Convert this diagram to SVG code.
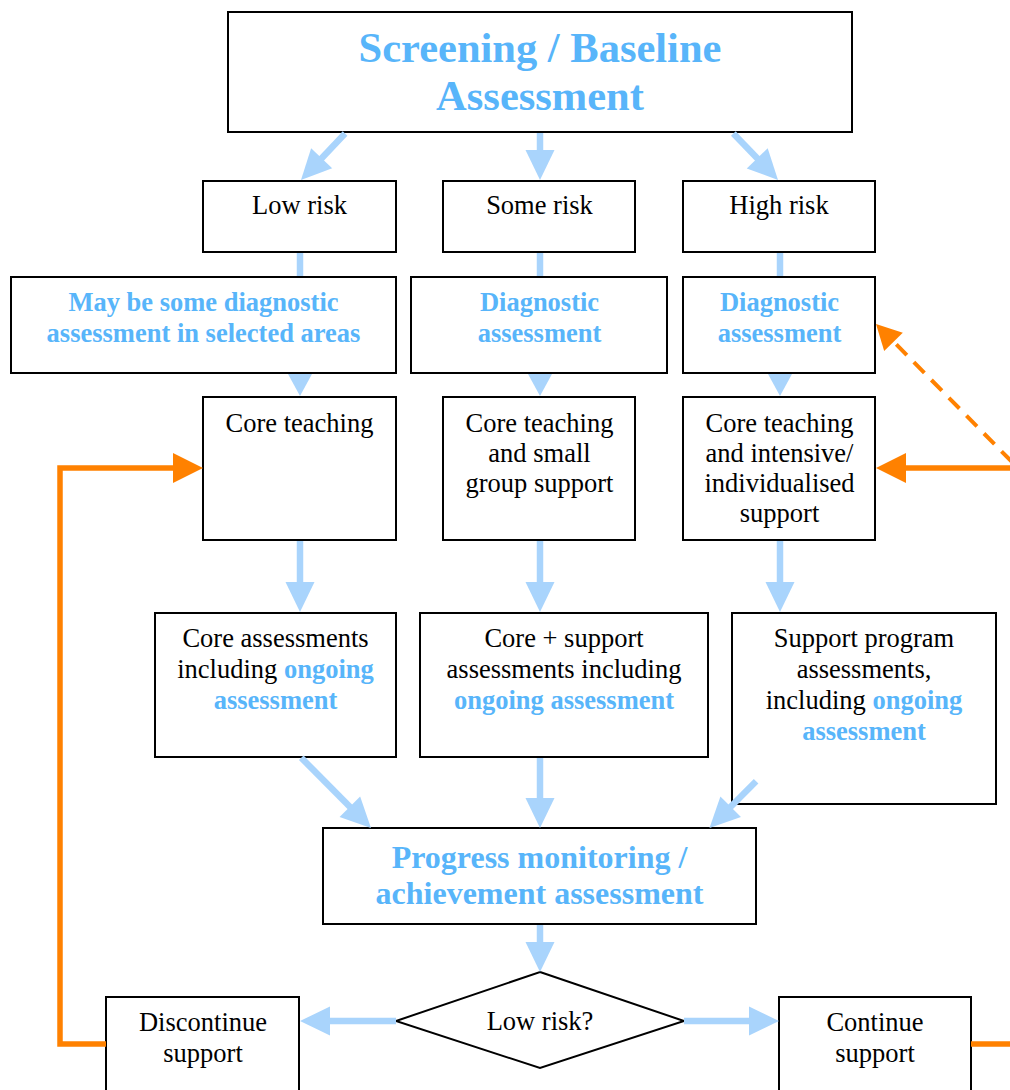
<svg xmlns="http://www.w3.org/2000/svg" width="1010" height="1090" viewBox="0 0 1010 1090">
<style>
  .box { fill: #ffffff; stroke: #000000; stroke-width: 2; }
  .t { font-family: "Liberation Serif", "Times New Roman", serif; font-size: 26.5px; fill: #000000; text-anchor: middle; }
  .b { font-family: "Liberation Serif", "Times New Roman", serif; font-weight: bold; fill: #58b5fa; }
  .hb { font-family: "Liberation Serif", "Times New Roman", serif; font-weight: bold; font-size: 26.5px; fill: #58b5fa; text-anchor: middle; }
  .title { font-family: "Liberation Serif", "Times New Roman", serif; font-weight: bold; font-size: 42.5px; fill: #58b5fa; text-anchor: middle; }
  .prog { font-family: "Liberation Serif", "Times New Roman", serif; font-weight: bold; font-size: 32px; fill: #58b5fa; text-anchor: middle; }
  .ab { stroke: #a9d4fc; stroke-width: 6.5; fill: none; }
  .ah { fill: #a9d4fc; stroke: none; }
  .ol { stroke: #ff8100; stroke-width: 5.5; fill: none; }
  .od { stroke: #ff8100; stroke-width: 4; fill: none; stroke-dasharray: 15 10; }
  .oh { fill: #ff8100; stroke: none; }
</style>

<g id="screening">
  <rect class="box" x="228" y="12" width="624" height="120"/>
  <text class="title" x="540" y="62">Screening / Baseline</text>
  <text class="title" x="540" y="110">Assessment</text>
</g>

<g id="low-risk">
  <rect class="box" x="203" y="181" width="193" height="71"/>
  <text class="t" x="299.5" y="214">Low risk</text>
</g>
<g id="some-risk">
  <rect class="box" x="443" y="181" width="192" height="71"/>
  <text class="t" x="539.5" y="214">Some risk</text>
</g>
<g id="high-risk">
  <rect class="box" x="683" y="181" width="192" height="71"/>
  <text class="t" x="779" y="214">High risk</text>
</g>

<g id="diag-low">
  <rect class="box" x="11" y="277" width="385" height="96"/>
  <text class="hb" x="203.5" y="311">May be some diagnostic</text>
  <text class="hb" x="203.5" y="342">assessment in selected areas</text>
</g>
<g id="diag-some">
  <rect class="box" x="411" y="277" width="256" height="96"/>
  <text class="hb" x="539.5" y="311">Diagnostic</text>
  <text class="hb" x="539.5" y="342">assessment</text>
</g>
<g id="diag-high">
  <rect class="box" x="683" y="277" width="192" height="96"/>
  <text class="hb" x="779.5" y="311">Diagnostic</text>
  <text class="hb" x="779.5" y="342">assessment</text>
</g>

<g id="teach-low">
  <rect class="box" x="203" y="397" width="193" height="143"/>
  <text class="t" x="299.5" y="432">Core teaching</text>
</g>
<g id="teach-some">
  <rect class="box" x="443" y="397" width="192" height="143"/>
  <text class="t" x="539.5" y="432">Core teaching</text>
  <text class="t" x="539.5" y="462">and small</text>
  <text class="t" x="539.5" y="492">group support</text>
</g>
<g id="teach-high">
  <rect class="box" x="683" y="397" width="192" height="143"/>
  <text class="t" x="779.5" y="432">Core teaching</text>
  <text class="t" x="779.5" y="462">and intensive/</text>
  <text class="t" x="779.5" y="492">individualised</text>
  <text class="t" x="779.5" y="522">support</text>
</g>

<g id="assess-low">
  <rect class="box" x="155" y="613" width="241" height="144"/>
  <text class="t" x="275.5" y="647">Core assessments</text>
  <text class="t" x="275.5" y="678">including <tspan class="b">ongoing</tspan></text>
  <text class="hb" x="275.5" y="709">assessment</text>
</g>
<g id="assess-some">
  <rect class="box" x="420" y="613" width="288" height="144"/>
  <text class="t" x="564" y="647">Core + support</text>
  <text class="t" x="564" y="678">assessments including</text>
  <text class="hb" x="564" y="709">ongoing assessment</text>
</g>
<g id="assess-high">
  <rect class="box" x="732" y="613" width="264" height="191"/>
  <text class="t" x="864" y="647">Support program</text>
  <text class="t" x="864" y="678">assessments,</text>
  <text class="t" x="864" y="709">including <tspan class="b">ongoing</tspan></text>
  <text class="hb" x="864" y="740">assessment</text>
</g>

<g id="progress">
  <rect class="box" x="323" y="828" width="433" height="96"/>
  <text class="prog" x="539.5" y="868">Progress monitoring /</text>
  <text class="prog" x="539.5" y="904">achievement assessment</text>
</g>

<g id="decision">
  <polygon class="box" points="540,972 684,1021 540,1068 396,1021"/>
  <text class="t" x="540" y="1030">Low risk?</text>
</g>

<g id="discontinue">
  <rect class="box" x="106" y="997" width="193" height="110"/>
  <text class="t" x="203" y="1031">Discontinue</text>
  <text class="t" x="203" y="1062">support</text>
</g>
<g id="continue">
  <rect class="box" x="779" y="997" width="192" height="110"/>
  <text class="t" x="875" y="1031">Continue</text>
  <text class="t" x="875" y="1062">support</text>
</g>

<g id="connectors">
  <!-- screening to risk boxes -->
  <g transform="translate(301,180) rotate(133.5)">
    <line class="ab" x1="-64" y1="0" x2="-29" y2="0"/>
    <polygon class="ah" points="0,0 -30,-14.5 -30,14.5"/>
  </g>
  <line class="ab" x1="540" y1="133" x2="540" y2="151"/>
  <polygon class="ah" points="540,180 525.5,150 554.5,150"/>
  <g transform="translate(778,180) rotate(46.2)">
    <line class="ab" x1="-64.5" y1="0" x2="-29" y2="0"/>
    <polygon class="ah" points="0,0 -30,-14.5 -30,14.5"/>
  </g>

  <!-- risk to diagnostic -->
  <line class="ab" x1="300" y1="253" x2="300" y2="276"/>
  <line class="ab" x1="540" y1="253" x2="540" y2="276"/>
  <line class="ab" x1="780" y1="253" x2="780" y2="276"/>

  <!-- diagnostic to teaching -->
  <polygon class="ah" points="288,374 312,374 300,396"/>
  <polygon class="ah" points="528,374 552,374 540,396"/>
  <polygon class="ah" points="768,374 792,374 780,396"/>

  <!-- teaching to assessments -->
  <line class="ab" x1="300" y1="541" x2="300" y2="583"/>
  <polygon class="ah" points="300,612 285.5,582 314.5,582"/>
  <line class="ab" x1="540" y1="541" x2="540" y2="583"/>
  <polygon class="ah" points="540,612 525.5,582 554.5,582"/>
  <line class="ab" x1="780" y1="541" x2="780" y2="583"/>
  <polygon class="ah" points="780,612 765.5,582 794.5,582"/>

  <!-- assessments to progress -->
  <g transform="translate(371,828) rotate(45.2)">
    <line class="ab" x1="-99" y1="0" x2="-29" y2="0"/>
    <polygon class="ah" points="0,0 -30,-14.5 -30,14.5"/>
  </g>
  <line class="ab" x1="540" y1="758" x2="540" y2="799"/>
  <polygon class="ah" points="540,828 525.5,798 554.5,798"/>
  <g transform="translate(709.5,828) rotate(134.9)">
    <line class="ab" x1="-66" y1="0" x2="-29" y2="0"/>
    <polygon class="ah" points="0,0 -30,-14.5 -30,14.5"/>
  </g>

  <!-- progress to decision -->
  <line class="ab" x1="540" y1="925" x2="540" y2="943"/>
  <polygon class="ah" points="540,972 525.5,942 554.5,942"/>

  <!-- decision to outcomes -->
  <line class="ab" x1="396" y1="1021" x2="329" y2="1021"/>
  <polygon class="ah" points="300,1021 330,1006.5 330,1035.5"/>
  <line class="ab" x1="684" y1="1021" x2="750" y2="1021"/>
  <polygon class="ah" points="779,1021 749,1006.5 749,1035.5"/>

  <!-- orange feedback loops -->
  <polyline class="ol" points="106,1044 60,1044 60,468 174,468"/>
  <polygon class="oh" points="203,468 173,453 173,483"/>

  <line class="ol" x1="971" y1="1044" x2="1015" y2="1044"/>
  <line class="ol" x1="905" y1="468" x2="1015" y2="468"/>
  <polygon class="oh" points="876,468 906,453 906,483"/>

  <line class="od" x1="1012" y1="462" x2="895" y2="343"/>
  <polygon class="oh" points="876,324 902.8,332.7 884.2,350.9"/>
</g>
</svg>
